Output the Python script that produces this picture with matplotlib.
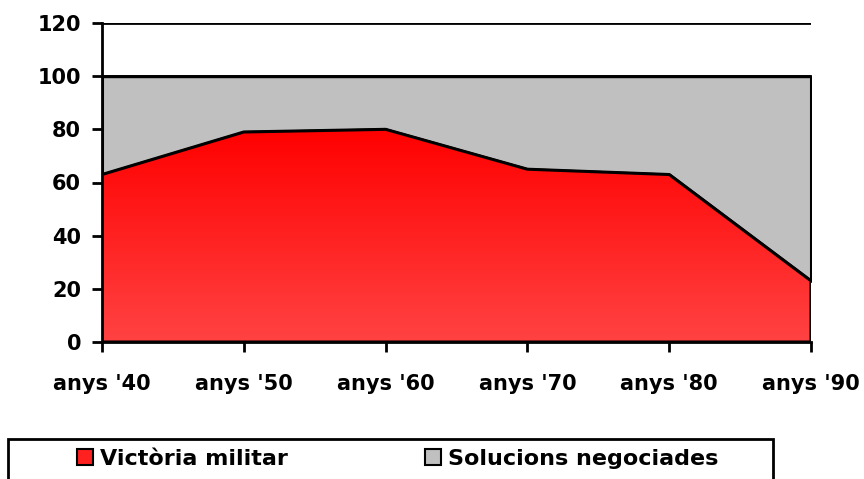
import numpy as np
import matplotlib.pyplot as plt
from matplotlib.patches import Rectangle, Patch

decades = ["anys '40", "anys '50", "anys '60", "anys '70", "anys '80", "anys '90"]
victoria = [63, 79, 80, 65, 63, 23]
total = [100, 100, 100, 100, 100, 100]
y_ticks = [0, 20, 40, 60, 80, 100, 120]
labels = ["Victòria militar", "Solucions negociades"]

font_size = 15
legend_fontsize = 16
W, H = 864, 479

fig = plt.figure(figsize=(W / 100, H / 100), dpi=100)
ax = fig.add_axes([102 / W, 137 / H, 709 / W, 319 / H])
x = np.arange(len(decades))

# gridlines behind the areas (only 100 and 120 stay visible)
for t in y_ticks:
  ax.axhline(t, color="black", lw=2, zorder=0)

ax.fill_between(x, victoria, total, facecolor="#C0C0C0", edgecolor="black", lw=2.2, zorder=1)
red = ax.fill_between(x, 0, victoria, facecolor="none", edgecolor="black", lw=2.2, zorder=3)

# vertical red gradient, clipped to the area
grad = np.linspace(0, 1, 256)[:, None]
rgb = np.zeros((256, 1, 3))
rgb[..., 0] = 1.0
rgb[..., 1] = 0.26 * (1 - grad)
rgb[..., 2] = 0.26 * (1 - grad)
img = ax.imshow(rgb, extent=(x[0], x[-1], 0, max(victoria)), aspect="auto",
                origin="lower", zorder=2, interpolation="bilinear")
img.set_clip_path(red.get_paths()[0], transform=ax.transData)

ax.set_xlim(x[0], x[-1])
ax.set_ylim(0, 120)
ax.set_xticks(x)
ax.set_xticklabels(decades)
ax.set_yticks(y_ticks)
for s in ["top", "right"]:
  ax.spines[s].set_visible(False)
for s in ["left", "bottom"]:
  ax.spines[s].set_linewidth(2)
  ax.spines[s].set_zorder(4)
ax.tick_params(axis="both", direction="out", length=7, width=2, labelsize=font_size)
ax.tick_params(axis="y", pad=8)
ax.tick_params(axis="x", pad=16)
for lbl in ax.get_xticklabels() + ax.get_yticklabels():
  lbl.set_fontweight("bold")

# legend box (bottom runs off the figure)
fig.add_artist(Rectangle((8 / W, -0.1), 765 / W, 40 / H + 0.1, transform=fig.transFigure,
                         fill=False, ec="black", lw=2))
handles = [Patch(facecolor="#FF2020", edgecolor="black", lw=1.5),
           Patch(facecolor="#C0C0C0", edgecolor="black", lw=1.5)]
fig.legend(handles, labels, ncol=2, frameon=False, loc="center left",
           bbox_to_anchor=(77 / W, 20 / H), fontsize=legend_fontsize,
           prop={"weight": "bold", "size": legend_fontsize},
           handlelength=0.72, handleheight=0.72, handletextpad=0.3,
           columnspacing=6.2, borderpad=0, borderaxespad=0)

fig.savefig("out.png", dpi=100)
